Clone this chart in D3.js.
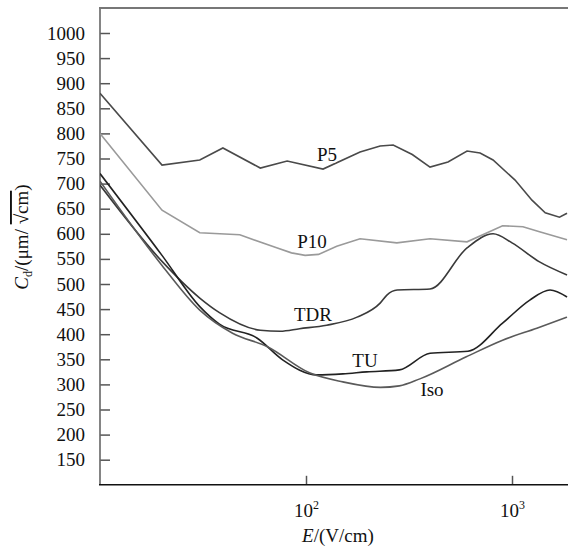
<!DOCTYPE html>
<html>
<head>
<meta charset="utf-8">
<script src="https://cdn.jsdelivr.net/npm/d3@7"></script>
<style>
  body { margin: 0; background: #fff; }
  text { font-family: "Liberation Serif", "Times New Roman", serif; }
</style>
</head>
<body>
<div id="chart"></div>
<script>
// E in V/cm, Cd in um/sqrt(cm)
const p5E   = [10, 20, 30.5, 39.5, 60, 81, 121, 183, 229, 265, 328, 400, 489, 605, 700, 809, 1035, 1250, 1450, 1700, 1850];
const p5Cd  = [880, 737, 747, 771, 731, 745, 729, 763, 775, 777, 758, 733, 743, 765, 761, 747, 707, 667, 642, 633, 641];

const p10E  = [10, 20, 30.5, 47.7, 72, 85, 99, 115, 141, 183, 276, 400, 605, 900, 1130, 1360, 1850];
const p10Cd = [800, 647, 602, 598, 572, 562, 557, 559, 575, 590, 582, 590, 584, 616, 614, 604, 588];

const tdrE  = [10, 20, 30.5, 38, 60, 75, 93, 126, 177, 229, 247, 277, 400, 605, 809, 1000, 1360, 1850];
const tdrCd = [697, 545, 472, 443, 408, 406, 411, 418, 434, 462, 478, 488, 490, 572, 600, 582, 544, 518];

const tuE   = [10, 20, 30.5, 38, 58, 77, 113, 151, 197, 284, 400, 611, 900, 1220, 1530, 1850];
const tuCd  = [720, 557, 455, 420, 392, 349, 319, 321, 325, 329, 362, 366, 422, 468, 488, 474];

const isoE  = [10, 20, 30.5, 44, 65, 104, 151, 230, 284, 357, 600, 900, 1320, 1850];
const isoCd = [705, 537, 448, 402, 375, 323, 305, 294, 297, 311, 355, 388, 412, 434];

const yTicks = d3.range(150, 1001, 50);
const xTicks = [100, 1000];

const width = 568, height = 546;
const svg = d3.select("#chart").append("svg")
  .attr("width", width)
  .attr("height", height);

const x = d3.scaleLog().domain([10, 1870]).range([100, 568]);
const y = d3.scaleLinear().domain([100, 1050]).range([484.8, 7.9]);

// axes
svg.append("g")
  .attr("transform", "translate(100,0)")
  .call(d3.axisLeft(y).tickValues(yTicks).tickSize(-10).tickPadding(15).tickFormat(d3.format("d")))
  .call(g => g.select(".domain").remove())
  .call(g => g.selectAll("line").attr("stroke", "#555").attr("stroke-width", 1.5))
  .call(g => g.selectAll("text").attr("font-size", 19).attr("fill", "#111")
    .style("font-family", "Liberation Serif"));

const xa = svg.append("g")
  .attr("transform", "translate(0,484.8)")
  .call(d3.axisBottom(x).tickValues(xTicks).tickSize(-9).tickFormat(""))
  .call(g => g.select(".domain").remove())
  .call(g => g.selectAll("line").attr("stroke", "#555").attr("stroke-width", 1.5));

xa.selectAll(".tick text")
  .attr("y", 32)
  .attr("dy", 0)
  .attr("font-size", 19)
  .attr("fill", "#111")
  .style("font-family", "Liberation Serif")
  .each(function(d) {
    const t = d3.select(this);
    t.append("tspan").text("10");
    t.append("tspan").attr("font-size", 12).attr("dy", -8).text(Math.round(Math.log10(d)));
  });

// frame
svg.append("line").attr("x1", 100).attr("x2", 100).attr("y1", 7.9).attr("y2", 485)
  .attr("stroke", "#666").attr("stroke-width", 1.6);
svg.append("line").attr("x1", 99).attr("x2", 568).attr("y1", 7.9).attr("y2", 7.9)
  .attr("stroke", "#777").attr("stroke-width", 2);
svg.append("line").attr("x1", 99).attr("x2", 568).attr("y1", 484.8).attr("y2", 484.8)
  .attr("stroke", "#111").attr("stroke-width", 1.6);

// axis titles
svg.append("text")
  .attr("x", 338).attr("y", 542)
  .attr("text-anchor", "middle")
  .attr("font-size", 19)
  .attr("fill", "#111")
  .call(t => {
    t.append("tspan").attr("font-style", "italic").text("E");
    t.append("tspan").text("/(V/cm)");
  });

const yl = svg.append("text")
  .attr("transform", "translate(28,237) rotate(-90)")
  .attr("text-anchor", "middle")
  .attr("font-size", 19)
  .attr("fill", "#111");
yl.append("tspan").attr("font-style", "italic").text("C");
yl.append("tspan").attr("font-size", 12).attr("dy", 4).text("d");
yl.append("tspan").attr("dy", -4).text("/(\u03bcm/ ");
yl.append("tspan").attr("text-decoration", "overline").text("\u221acm");
yl.append("tspan").text(")");

// curves
svg.append("clipPath").attr("id", "plot")
  .append("rect").attr("x", 100).attr("y", 8).attr("width", 468).attr("height", 477);

const series = [
  { name: "P5",  E: p5E,  v: p5Cd,  color: "#4a4a4a", curve: d3.curveLinear },
  { name: "P10", E: p10E, v: p10Cd, color: "#9a9a9a", curve: d3.curveLinear },
  { name: "TDR", E: tdrE, v: tdrCd, color: "#3a3a3a", curve: d3.curveMonotoneX },
  { name: "TU",  E: tuE,  v: tuCd,  color: "#222",    curve: d3.curveMonotoneX },
  { name: "Iso", E: isoE, v: isoCd, color: "#5a5a5a", curve: d3.curveMonotoneX }
];

svg.append("g").attr("clip-path", "url(#plot)")
  .selectAll("path")
  .data(series)
  .join("path")
    .attr("fill", "none")
    .attr("stroke", d => d.color)
    .attr("stroke-width", 1.6)
    .attr("d", d => d3.line()
      .x(p => x(p[0]))
      .y(p => y(p[1]))
      .curve(d.curve)(d.E.map((e, i) => [e, d.v[i]])));

// series labels
const labels = [
  { text: "P5",  x: 327, y: 161 },
  { text: "P10", x: 312, y: 248 },
  { text: "TDR", x: 313, y: 321 },
  { text: "TU",  x: 365, y: 367 },
  { text: "Iso", x: 432, y: 396 }
];
svg.append("g").selectAll("text")
  .data(labels)
  .join("text")
    .attr("x", d => d.x)
    .attr("y", d => d.y)
    .attr("text-anchor", "middle")
    .attr("font-size", 19)
    .attr("fill", "#111")
    .attr("stroke", "#fff")
    .attr("stroke-width", 4)
    .attr("paint-order", "stroke")
    .text(d => d.text);
</script>
</body>
</html>
